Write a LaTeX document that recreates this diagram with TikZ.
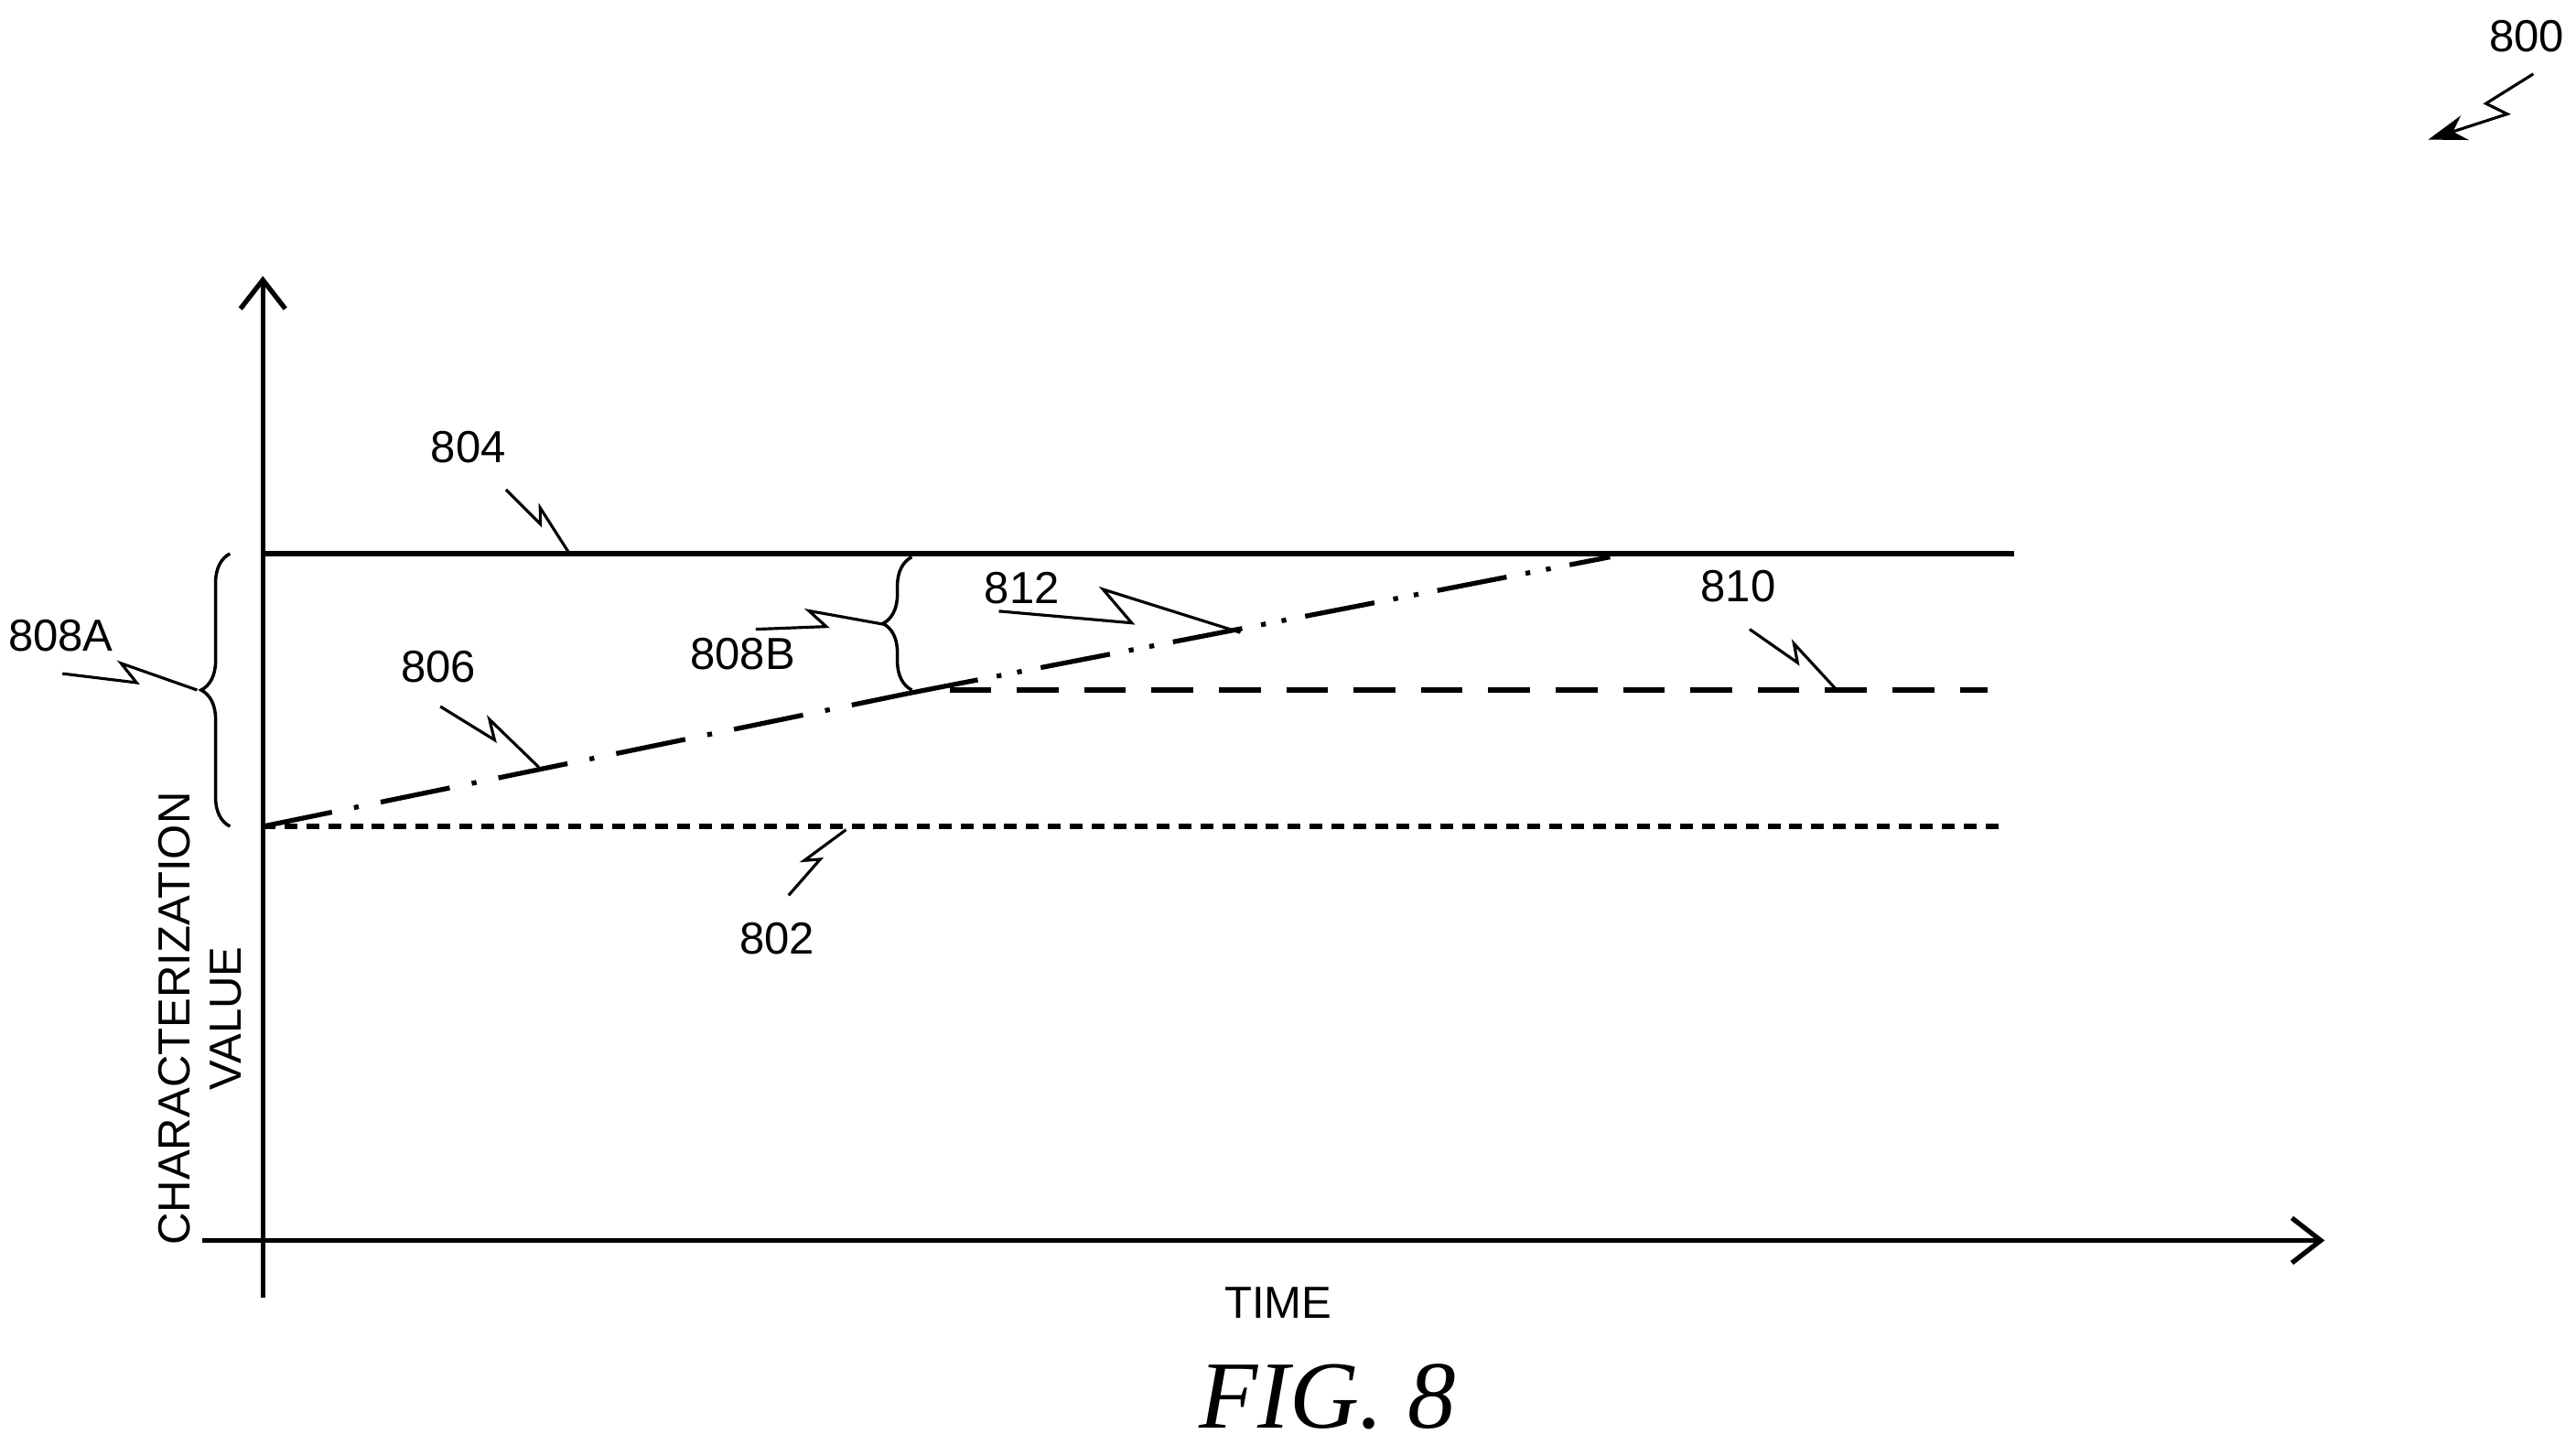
\documentclass[tikz,border=0pt]{standalone}
\usepackage{fontspec}
\setmainfont{Liberation Sans}
\newfontfamily\figfont{Liberation Serif}
\usetikzlibrary{arrows.meta, positioning, decorations.pathreplacing, calc}
\tikzset{
  axis/.style={line width=1.5pt, -{Straight Barb[length=9pt,width=14pt,line width=1.5pt]}},
  curve/.style={line width=1.5pt},
  lbl/.style={font=\fontsize{14}{16}\selectfont, inner sep=1pt},
  lead/.style={line width=0.9pt},
  brc/.style={line width=1pt, decorate, decoration={brace, amplitude=9pt}}
}
% zigzag leader from a label point to its target
\newcommand{\leadto}[2]{\draw[lead] (#1) -- ($(#1)!0.55!(#2)$) -- ($(#1)!0.42!(#2)!0.22!90:(#2)$) -- (#2);}
\begin{document}
\begin{tikzpicture}[x=0.018cm, y=-0.018cm]
  \useasboundingbox (0,0) rectangle (1568,879);
  % axes
  \coordinate (O) at (160,755);
  \draw[axis] (160,790) -- (160,168);%value axis
  \draw[axis] (123,755) -- (1415,755);%time axis
  \node (time) [lbl] at (778,793) {TIME};
  \node (yl) [lbl, rotate=90, align=center] at (122,620) {CHARACTERIZATION\\VALUE};
  % lines
  \coordinate (a804) at (160,337);
  \coordinate (b804) at (1226,337);
  \draw[curve] (a804) -- (b804);
  \coordinate (a802) at (160,503);
  \coordinate (b802) at (1218,503);
  \draw[curve, dash pattern=on 4pt off 2.8pt] (a802) -- (b802);
  \coordinate (a810) at (578,420);
  \coordinate (b810) at (1210,420);
  \draw[curve, dash pattern=on 13pt off 8pt] (a810) -- (b810);
  \coordinate (k) at (553,422);
  \draw[curve, dash pattern=on 22pt off 7pt on 1.5pt off 7pt] (a802) -- (k);
  \coordinate (e812) at (980,339);
  \draw[curve, dash pattern=on 22pt off 6pt on 1.5pt off 5pt on 1.5pt off 6pt] (k) -- (e812);
  % braces
  \draw[brc] (140,503) -- (140,337);
  \draw[brc] (555,420) -- (555,339);
  % labels and leaders
  \node (l804) [lbl] at (285,272) {804};
  \coordinate (s804) at (308,298); \coordinate (t804) at (346,336);
  \leadto{s804}{t804}
  \node (l806) [lbl] at (267,406) {806};
  \coordinate (s806) at (268,430); \coordinate (t806) at (328,467);
  \leadto{s806}{t806}
  \node (l808a) [lbl] at (37,387) {808A};
  \coordinate (s808a) at (38,410); \coordinate (t808a) at (120,420);
  \leadto{s808a}{t808a}
  \node (l808b) [lbl] at (452,398) {808B};
  \coordinate (s808b) at (460,383); \coordinate (t808b) at (538,380);
  \leadto{s808b}{t808b}
  \node (l812) [lbl] at (622,358) {812};
  \coordinate (s812) at (608,372); \coordinate (t812) at (755,385);
  \leadto{s812}{t812}
  \node (l810) [lbl] at (1058,357) {810};
  \coordinate (s810) at (1065,383); \coordinate (t810) at (1118,420);
  \leadto{s810}{t810}
  \node (l802) [lbl] at (473,571) {802};
  \coordinate (s802) at (480,545); \coordinate (t802) at (515,505);
  \leadto{s802}{t802}
  \node (l800) [lbl] at (1538,22) {800};
  \coordinate (s800) at (1542,45); \coordinate (t800) at (1478,85);
  \draw[lead, -{Stealth[length=12pt,width=8pt]}] (s800) -- ($(s800)!0.45!(t800)$) -- ($(s800)!0.35!(t800)!0.25!90:(t800)$) -- (t800);
  % figure caption
  \node (fig) [font=\figfont\itshape\fontsize{30}{34}\selectfont] at (808,850) {FIG. 8};
\end{tikzpicture}
\end{document}
